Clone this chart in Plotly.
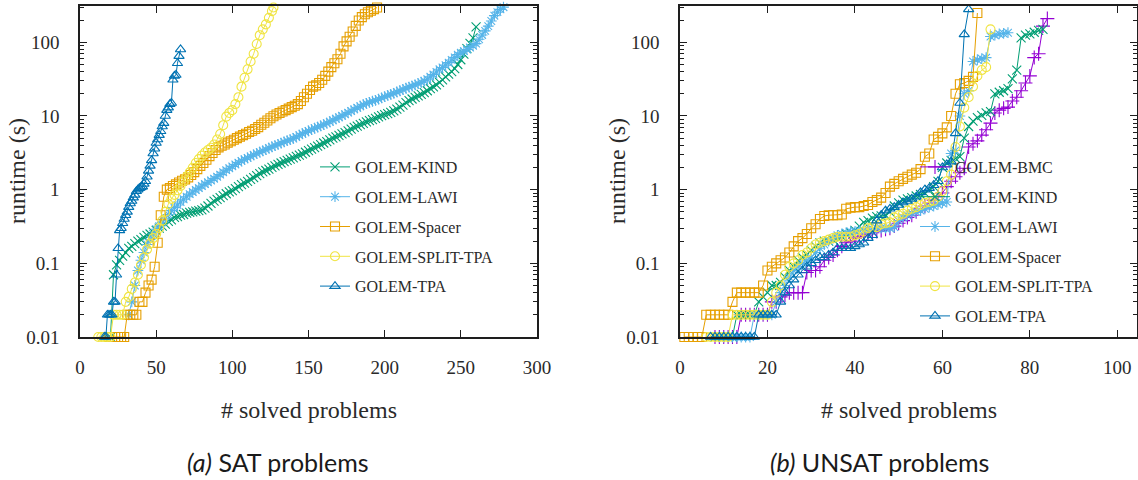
import plotly.graph_objects as go

W, H = 1138, 480          # final figure size (page without body margin)
BODY_MARGIN = 8           # default body margin of the generated page, removed after plotting

# ---------------- SAT problems (left panel) ----------------
# runtimes read for every 2nd solved problem (start index, step 2)
SAT_KIND_START = 20
SAT_KIND_T = [0.01, 0.07, 0.095, 0.11, 0.125, 0.14, 0.16, 0.17, 0.185, 0.2,
              0.21, 0.225, 0.24, 0.25, 0.265, 0.28, 0.3, 0.32, 0.34, 0.37,
              0.39, 0.42, 0.43, 0.45, 0.46, 0.48, 0.49, 0.5, 0.51, 0.52,
              0.53, 0.56, 0.6, 0.65, 0.7, 0.74, 0.78, 0.83, 0.88, 0.93,
              0.97, 1.03, 1.1, 1.17, 1.23, 1.3, 1.38, 1.46, 1.55, 1.65,
              1.74, 1.82, 1.9, 2.0, 2.1, 2.2, 2.3, 2.4, 2.5, 2.6,
              2.7, 2.83, 2.95, 3.05, 3.22, 3.38, 3.55, 3.72, 3.9, 4.1,
              4.3, 4.5, 4.75, 5.0, 5.2, 5.45, 5.7, 5.95, 6.3, 6.65,
              7.0, 7.3, 7.65, 7.95, 8.3, 8.65, 8.95, 9.3, 9.7, 10.1,
              10.4, 10.8, 11.2, 11.7, 12.4, 13.2, 14, 15.2, 16.2, 17,
              17.9, 18.8, 19.7, 20.7, 22, 23.5, 24.8, 26.4, 28.5, 31,
              34, 37, 40, 44, 50, 58, 69, 82, 97, 115, 162]

SAT_LAWI_START = 32
SAT_LAWI_T = [0.02, 0.03, 0.05, 0.08, 0.11, 0.14, 0.18, 0.21, 0.25, 0.29,
              0.32, 0.36, 0.41, 0.46, 0.52, 0.57, 0.62, 0.68, 0.74, 0.8,
              0.87, 0.93, 0.99, 1.05, 1.12, 1.19, 1.26, 1.33, 1.41, 1.5,
              1.6, 1.72, 1.84, 1.95, 2.07, 2.2, 2.33, 2.46, 2.58, 2.7,
              2.83, 2.97, 3.1, 3.23, 3.37, 3.5, 3.67, 3.82, 3.97, 4.12,
              4.28, 4.45, 4.62, 4.78, 4.95, 5.2, 5.48, 5.75, 6.0, 6.28,
              6.55, 6.82, 7.08, 7.35, 7.65, 7.98, 8.35, 8.75, 9.15, 9.6,
              10.05, 10.55, 11.1, 11.7, 12.3, 12.9, 13.55, 14.2, 14.8, 15.35,
              15.85, 16.3, 16.95, 17.6, 18.3, 19, 19.7, 20.3, 21.2, 22,
              22.9, 23.8, 24.7, 25.5, 26.5, 27.5, 28.7, 29.8, 31.5, 34,
              36.5, 39.5, 43, 45.5, 49, 53, 57.5, 62.5, 68, 72,
              76, 80, 85, 90, 96, 110, 126, 143, 166, 195,
              230, 257, 280, 300]

SAT_SPACER_START = 19
SAT_SPACER_T = [0.01, 0.01, 0.01, 0.01, 0.01, 0.01, 0.02, 0.02, 0.02, 0.02,
                0.03, 0.03, 0.04, 0.05, 0.06, 0.09, 0.19, 0.45, 0.8, 1.0,
                1.05, 1.12, 1.18, 1.25, 1.32, 1.38, 1.47, 1.58, 1.73, 1.9,
                2.1, 2.3, 2.55, 2.85, 3.15, 3.45, 3.75, 3.95, 4.1, 4.35,
                4.55, 4.75, 5.0, 5.25, 5.5, 5.75, 6.05, 6.3, 6.65, 7.05,
                7.6, 8.1, 8.7, 9.3, 9.9, 10.5, 11, 11.5, 12, 12.6,
                13.2, 13.8, 14.5, 16, 18, 20, 22.5, 25, 26, 28,
                31, 35, 40, 46, 52, 59, 70, 88, 103, 119,
                140, 167, 198, 220, 240, 256, 268, 282, 297]

SAT_SPLIT_N = [12, 14, 16, 18, 20, 22, 24, 26, 28, 30, 32, 34, 36, 38, 40, 42, 44, 46, 48, 50,
               52, 54, 56, 58, 60, 62, 64, 66, 68, 70, 72, 74, 76, 78, 80, 82, 84, 86, 88, 90,
               92, 94, 96, 98, 100, 102, 104, 106, 108, 110, 112, 114, 116, 118, 120, 122, 124, 126, 127]
SAT_SPLIT_T = [0.01, 0.01, 0.01, 0.01, 0.01, 0.02, 0.02, 0.02, 0.02, 0.03,
               0.035, 0.045, 0.055, 0.07, 0.095, 0.12, 0.155, 0.185, 0.22, 0.25,
               0.3, 0.38, 0.5, 0.64, 0.75, 0.85, 0.98, 1.12, 1.3, 1.5,
               1.72, 1.98, 2.3, 2.6, 2.9, 3.2, 3.45, 3.7, 4.1, 4.8,
               5.7, 7.5, 9.8, 11, 12, 14.5, 18, 25, 33, 43,
               55, 70, 95, 125, 150, 175, 215, 265, 297]

SAT_TPA_START = 16
SAT_TPA_T = [0.01, 0.01, 0.02, 0.02, 0.02, 0.02, 0.03, 0.03, 0.07, 0.16,
             0.28, 0.3, 0.35, 0.4, 0.45, 0.5, 0.58, 0.65, 0.7, 0.78,
             0.85, 0.95, 1.0, 1.05, 1.07, 1.1, 1.2, 1.3, 1.5, 1.8,
             2.1, 2.5, 3.1, 3.6, 4.3, 4.8, 5.5, 6.2, 7.2, 8.0,
             10, 12, 13, 14.5, 15, 31, 35, 36, 52, 65, 80]

# ---------------- UNSAT problems (right panel), one value per solved problem ----------------
UNSAT_BMC_START = 8
UNSAT_BMC_T = [0.01, 0.01, 0.01, 0.01, 0.01, 0.01,
               0.02, 0.02, 0.02, 0.02, 0.02, 0.02, 0.02,
               0.03, 0.03, 0.035, 0.037, 0.04, 0.04, 0.04, 0.04, 0.075, 0.08,
               0.08, 0.09, 0.11, 0.12, 0.13, 0.15, 0.17, 0.19, 0.2, 0.22,
               0.23, 0.24, 0.25, 0.26, 0.27, 0.28, 0.29, 0.3, 0.32, 0.35,
               0.38, 0.42, 0.45, 0.5, 0.55, 0.6, 0.66, 0.72, 0.8, 0.9,
               1.1, 1.3, 1.5, 1.7, 1.95, 3.8, 4.2, 4.6, 5.5, 6.5,
               8, 11, 12, 12.7, 13.2, 16, 18, 22, 28, 35,
               62, 70, 166, 210]

UNSAT_KIND_START = 8
UNSAT_KIND_T = [0.01, 0.01, 0.01, 0.01, 0.01,
                0.02, 0.02, 0.02, 0.02, 0.02,
                0.03, 0.035, 0.04, 0.05, 0.05, 0.055, 0.065, 0.08, 0.09, 0.11,
                0.12, 0.13, 0.15, 0.17, 0.19, 0.2, 0.2, 0.21, 0.22, 0.23,
                0.25, 0.26, 0.28, 0.32, 0.36, 0.38, 0.41, 0.43, 0.44, 0.45,
                0.5, 0.6, 0.66, 0.72, 0.75, 0.78, 0.82, 0.86, 0.9, 1.0,
                1.1, 1.3, 2.0, 2.3, 2.5, 2.65, 2.8, 5.0, 7.2, 8.5,
                9.5, 10.2, 11, 11.5, 20, 21, 22, 23.5, 32, 42,
                115, 125, 130, 137, 145, 150]

UNSAT_LAWI_START = 9
UNSAT_LAWI_T = [0.01, 0.01, 0.01, 0.01, 0.01, 0.01, 0.01, 0.01,
                0.02, 0.02, 0.02, 0.02, 0.02,
                0.03, 0.04, 0.05, 0.065, 0.08, 0.09, 0.1, 0.11, 0.12, 0.14,
                0.16, 0.18, 0.2, 0.22, 0.24, 0.25, 0.26, 0.27, 0.27, 0.28,
                0.28, 0.29, 0.29, 0.3, 0.3, 0.3, 0.3, 0.31, 0.38, 0.42,
                0.45, 0.48, 0.5, 0.52, 0.55, 0.58, 0.6, 0.63, 0.66, 0.68,
                3.1, 3.4, 10, 20, 22, 55, 58, 60, 62, 120,
                125, 130, 132, 135]

UNSAT_SPACER_START = 1
UNSAT_SPACER_T = [0.01, 0.01, 0.01, 0.01, 0.01,
                  0.02, 0.02, 0.02, 0.02, 0.02, 0.02,
                  0.03, 0.04, 0.04, 0.04, 0.04, 0.04, 0.04, 0.05,
                  0.08, 0.09, 0.1, 0.11, 0.12, 0.14, 0.17, 0.2, 0.22, 0.25, 0.3,
                  0.34, 0.4, 0.44, 0.45, 0.45, 0.45, 0.46, 0.55, 0.57, 0.58,
                  0.58, 0.6, 0.62, 0.68, 0.72, 0.78, 0.9, 1.1, 1.2, 1.3,
                  1.4, 1.5, 1.6, 1.7, 1.9, 2.8, 3.1, 4.8, 5.2, 5.8,
                  7.0, 10, 20, 27, 28, 30, 34, 250]

UNSAT_SPLIT_START = 6
UNSAT_SPLIT_T = [0.01, 0.01, 0.01, 0.01, 0.01, 0.01,
                 0.02, 0.02, 0.02, 0.02, 0.02, 0.02, 0.02, 0.02, 0.02,
                 0.03, 0.04, 0.05, 0.07, 0.09, 0.1, 0.11, 0.13, 0.14, 0.16,
                 0.18, 0.19, 0.2, 0.21, 0.22, 0.23, 0.23, 0.23, 0.23, 0.24,
                 0.25, 0.27, 0.3, 0.31, 0.31, 0.34, 0.35, 0.36, 0.42, 0.45,
                 0.47, 0.52, 0.55, 0.58, 0.62, 0.66, 0.68, 0.71, 0.8, 0.95,
                 1.3, 1.6, 3.8, 7.2, 13, 18, 25, 35, 42, 46, 150]

UNSAT_TPA_START = 7
UNSAT_TPA_T = [0.01, 0.01, 0.01, 0.01, 0.01, 0.01, 0.01, 0.01, 0.01, 0.01, 0.01,
               0.02, 0.02, 0.02, 0.02, 0.02,
               0.03, 0.04, 0.05, 0.06, 0.07, 0.08, 0.09, 0.1, 0.11, 0.12,
               0.12, 0.13, 0.14, 0.16, 0.16, 0.16, 0.16, 0.17, 0.18, 0.19,
               0.22, 0.24, 0.38, 0.45, 0.52, 0.55, 0.58, 0.62, 0.67, 0.7,
               0.75, 0.8, 0.92, 1.0, 1.05, 1.15, 1.3, 2.0, 2.2, 2.4,
               5.8, 15, 128, 280]

SAT_X_TICKS = [0, 50, 100, 150, 200, 250, 300]
UNSAT_X_TICKS = [0, 20, 40, 60, 80, 100]
Y_TICKS = [0.01, 0.1, 1, 10, 100]
Y_TICK_TEXT = ["0.01", "0.1", "1", "10", "100"]

COLORS = {"BMC": "#9400d3", "KIND": "#009e73", "LAWI": "#56b4e9",
          "Spacer": "#e69f00", "SPLIT-TPA": "#f0e442", "TPA": "#0072b2"}
SYMBOLS = {"BMC": "cross-thin-open", "KIND": "x-thin-open", "LAWI": "asterisk-open",
           "Spacer": "square-open", "SPLIT-TPA": "circle-open", "TPA": "triangle-up-open"}
SIZES = {"BMC": 10, "KIND": 9, "LAWI": 9, "Spacer": 9, "SPLIT-TPA": 9, "TPA": 9}


def seq(start, vals, step=1):
    return [start + step * i for i in range(len(vals))]


fig = go.Figure()


def add(key, xs, ys, panel):
    n = min(len(xs), len(ys))
    c = COLORS[key]
    fig.add_trace(go.Scatter(
        x=xs[:n], y=ys[:n], mode="lines+markers", name="GOLEM-" + key,
        line=dict(color=c, width=1),
        marker=dict(symbol=SYMBOLS[key], size=SIZES[key], color=c, line=dict(color=c, width=1.1)),
        xaxis="x" if panel == 1 else "x2", yaxis="y" if panel == 1 else "y2",
        legend="legend" if panel == 1 else "legend2",
        legendgroup=key + str(panel), cliponaxis=False,
    ))


add("KIND", seq(SAT_KIND_START, SAT_KIND_T, 2), SAT_KIND_T, 1)
add("LAWI", seq(SAT_LAWI_START, SAT_LAWI_T, 2), SAT_LAWI_T, 1)
add("Spacer", seq(SAT_SPACER_START, SAT_SPACER_T, 2), SAT_SPACER_T, 1)
add("SPLIT-TPA", SAT_SPLIT_N, SAT_SPLIT_T, 1)
add("TPA", seq(SAT_TPA_START, SAT_TPA_T), SAT_TPA_T, 1)

add("BMC", seq(UNSAT_BMC_START, UNSAT_BMC_T), UNSAT_BMC_T, 2)
add("KIND", seq(UNSAT_KIND_START, UNSAT_KIND_T), UNSAT_KIND_T, 2)
add("LAWI", seq(UNSAT_LAWI_START, UNSAT_LAWI_T), UNSAT_LAWI_T, 2)
add("Spacer", seq(UNSAT_SPACER_START, UNSAT_SPACER_T), UNSAT_SPACER_T, 2)
add("SPLIT-TPA", seq(UNSAT_SPLIT_START, UNSAT_SPLIT_T), UNSAT_SPLIT_T, 2)
add("TPA", seq(UNSAT_TPA_START, UNSAT_TPA_T), UNSAT_TPA_T, 2)

INK = "#1e1e1e"
SERIF = "Liberation Serif"
MINOR_Y = [m * 10.0 ** e for e in range(-2, 3) for m in range(2, 10)]

common = dict(showline=True, linecolor=INK, linewidth=1.6, mirror="allticks",
              ticks="inside", ticklen=7, tickwidth=1.2, tickcolor=INK,
              showgrid=False, zeroline=False, automargin=False,
              tickfont=dict(family=SERIF, size=19, color="#2a2a2a"))

yax = dict(common, type="log", range=[-2, 2.493], tickmode="array",
           tickvals=Y_TICKS, ticktext=Y_TICK_TEXT, ticklabelstandoff=15,
           minor=dict(tickmode="array", tickvals=MINOR_Y, ticks="inside",
                      ticklen=4, tickwidth=1, tickcolor=INK, showgrid=False))

y_dom = [1 - 337 / H, 1 - 6 / H]
leg_font = dict(family=SERIF, size=16, color="#2a2a2a")

fig.update_layout(
    # initial size leaves room for the page's default 8px body margin; the post script
    # removes that margin and restores the full W x H size
    width=W - 2 * BODY_MARGIN, height=H - 2 * BODY_MARGIN, autosize=False,
    margin=dict(l=0, r=0, t=0, b=0, pad=0, autoexpand=False),
    paper_bgcolor="white", plot_bgcolor="white",
    xaxis=dict(common, domain=[80 / W, 537 / W], range=[0, 300], tickmode="array",
               tickvals=SAT_X_TICKS, ticklabelstandoff=12, anchor="y"),
    yaxis=dict(yax, domain=y_dom, anchor="x"),
    xaxis2=dict(common, domain=[680 / W, 1137 / W], range=[0, 104.5], tickmode="array",
                tickvals=UNSAT_X_TICKS, ticklabelstandoff=12, anchor="y2"),
    yaxis2=dict(yax, domain=y_dom, anchor="x2"),
    legend=dict(x=315 / W, xanchor="left", y=1 - 150 / H, yanchor="top",
                bgcolor="rgba(0,0,0,0)", font=leg_font,
                tracegroupgap=6, traceorder="grouped"),
    legend2=dict(x=915 / W, xanchor="left", y=1 - 150 / H, yanchor="top",
                 bgcolor="rgba(0,0,0,0)", font=leg_font,
                 tracegroupgap=6, traceorder="grouped"),
    showlegend=True,
)

ann_font = dict(family=SERIF, size=24, color="#2a2a2a")
cap_font = dict(family="Lato", size=25, color="#1a1a1a")
annotations = [
    dict(text="runtime (s)", x=17 / W, y=1 - 171 / H, textangle=-90, font=ann_font),
    dict(text="runtime (s)", x=617 / W, y=1 - 171 / H, textangle=-90, font=ann_font),
    dict(text="# solved problems", x=309 / W, y=1 - 410 / H, font=ann_font),
    dict(text="# solved problems", x=909 / W, y=1 - 410 / H, font=ann_font),
    dict(text="<i>(a)</i> SAT problems", x=278 / W, y=1 - 462 / H, font=cap_font),
    dict(text="<i>(b)</i> UNSAT problems", x=879 / W, y=1 - 462 / H, font=cap_font),
]
for a in annotations:
    a.update(xref="paper", yref="paper", showarrow=False, xanchor="center", yanchor="middle")
fig.update_layout(annotations=annotations)

POST = """
var gd = document.getElementById('{plot_id}');
document.body.style.margin = '0px';
document.body.style.overflow = 'hidden';
return Plotly.relayout(gd, {width: %d, height: %d});
""" % (W, H)

fig.write_html("out.html", config={"responsive": False, "displayModeBar": False}, post_script=POST)
